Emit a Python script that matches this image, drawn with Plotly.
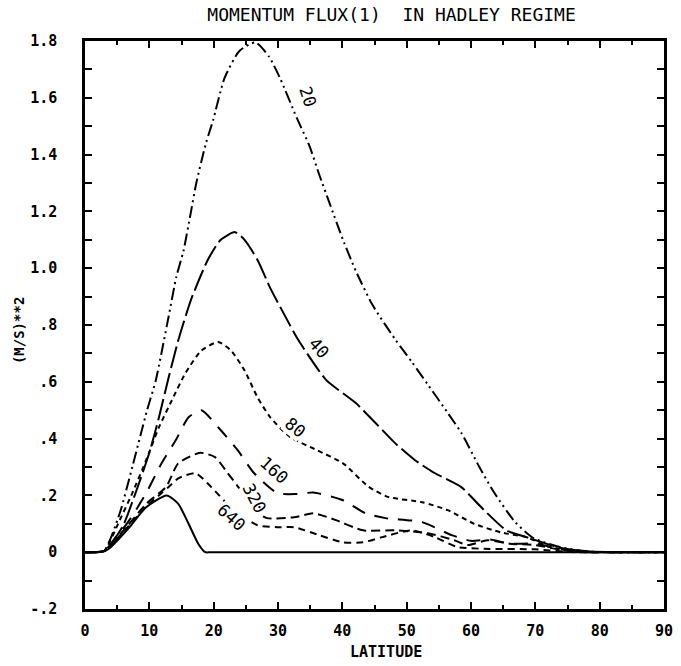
import plotly.graph_objects as go

# ---------------- data ----------------
lat_20 = [0, 1.5, 3, 5.4, 7.35, 9.65, 11.0, 13.0, 14.2, 15.3, 16.4, 17.3, 18.8, 19.9, 21.7, 24.0, 26.5,
          28.6, 30.3, 32.9, 34.9, 36.4, 38.0, 40.1, 42.1, 44.7, 48.2, 50.8, 53.3, 56.4, 58.5,
          61.3, 63.6, 66.9, 69.7, 73.8, 78, 82, 86, 90]
val_20 = [0, 0, 0.005, 0.137, 0.30, 0.50, 0.605, 0.83, 0.97, 1.06, 1.19, 1.30, 1.44, 1.52, 1.67, 1.765, 1.795,
          1.745, 1.67, 1.53, 1.43, 1.33, 1.23, 1.10, 0.99, 0.87, 0.75, 0.67, 0.59, 0.49, 0.42,
          0.30, 0.21, 0.105, 0.05, 0.018, 0.003, 0, 0, 0]

lat_40 = [0, 1.5, 3, 5.8, 8.0, 10.0, 11.5, 13.0, 14.5, 16.5, 19.1, 21.1, 23.3, 24.8, 26.8, 28.8, 30.9,
          32.9, 34.9, 37.5, 42.1, 45.2, 48.2, 51.3, 54.4, 58.5, 61.6, 65.5, 68.6, 74, 78, 82, 86, 90]
val_40 = [0, 0, 0.005, 0.088, 0.218, 0.35, 0.475, 0.615, 0.746, 0.89, 1.03, 1.10, 1.127, 1.10, 1.03, 0.93, 0.84,
          0.757, 0.687, 0.606, 0.525, 0.454, 0.384, 0.324, 0.278, 0.229, 0.158, 0.077, 0.053, 0.015, 0.003,
          0, 0, 0]

lat_80 = [0, 1.5, 3, 5.4, 7.35, 9.5, 11.5, 13.5, 15.6, 18.1, 20.7, 22.7, 24.8, 26.8, 28.8, 31.9, 36.0,
          40.1, 44.1, 47.2, 52.4, 56.4, 60.5, 64.6, 68.6, 72, 76, 80, 85, 90]
val_80 = [0, 0, 0.005, 0.113, 0.208, 0.324, 0.44, 0.535, 0.63, 0.71, 0.74, 0.71, 0.64, 0.546, 0.475, 0.405, 0.36,
          0.313, 0.23, 0.194, 0.176, 0.148, 0.10, 0.07, 0.053, 0.02, 0.005, 0, 0, 0]

lat_160 = [0, 1.5, 3, 6.9, 9.5, 11.9, 14.1, 16.1, 18.1, 20.7, 23.7, 26.3, 29.9, 33.0, 35.5, 40.1, 43.6, 46.7,
           52.4, 57.0, 60, 63, 66, 70, 74, 78, 84, 90]
val_160 = [0, 0, 0.005, 0.113, 0.208, 0.313, 0.394, 0.475, 0.50, 0.44, 0.36, 0.278, 0.208, 0.205, 0.21, 0.183,
           0.137, 0.12, 0.106, 0.06, 0.04, 0.045, 0.03, 0.03, 0.01, 0, 0, 0]

lat_320 = [0, 1.5, 3, 6.5, 9.5, 12.6, 14.5, 17.9, 20.2, 22.2, 24.2, 26.3, 28.3, 32.5, 35.5, 39.0, 43.2,
           48.2, 53.3, 57.4, 59.5, 62.5, 66, 70, 74, 78, 84, 90]
val_320 = [0, 0, 0.005, 0.09, 0.17, 0.23, 0.313, 0.35, 0.335, 0.278, 0.218, 0.148, 0.12, 0.123, 0.137, 0.113,
           0.077, 0.077, 0.067, 0.042, 0.025, 0.042, 0.03, 0.025, 0.008, 0, 0, 0]

lat_640 = [0, 1.5, 3, 6.5, 9.5, 12, 13, 14.5, 17.2, 19.6, 23.0, 26.8, 29.9, 32.5, 36.4, 40.1, 43.2,
           46.2, 50.8, 54.4, 57.9, 62, 70, 76, 83, 90]
val_640 = [0, 0, 0.005, 0.085, 0.16, 0.21, 0.23, 0.26, 0.278, 0.23, 0.15, 0.095, 0.088, 0.088, 0.06, 0.035, 0.035,
           0.053, 0.077, 0.053, 0.018, 0.012, 0.01, 0, 0, 0]

lat_solid = [0, 1.5, 3, 3.8, 6.9, 9.5, 12.7, 14.5, 16.1, 17.6, 18.7, 19.5, 22, 30, 40, 50, 60, 70, 80, 90]
val_solid = [0, 0, 0.003, 0.014, 0.088, 0.158, 0.20, 0.17, 0.10, 0.03, 0, 0, 0, 0, 0, 0, 0, 0, 0, 0]

curve_labels = ["20", "40", "80", "160", "320", "640"]
label_lat = [34.6, 36.4, 32.6, 29.4, 26.3, 22.7]
label_val = [1.606, 0.72, 0.44, 0.29, 0.19, 0.123]
label_angle = [72, 48, 40, 42, 62, 42]

ytick_vals = [-0.2, 0, 0.2, 0.4, 0.6, 0.8, 1.0, 1.2, 1.4, 1.6, 1.8]
ytick_text = ["-.2", "0", ".2", ".4", ".6", ".8", "1.0", "1.2", "1.4", "1.6", "1.8"]
xtick_vals = [0, 10, 20, 30, 40, 50, 60, 70, 80, 90]

FONT = "DejaVu Sans Mono"

# ---------------- figure ----------------
series = [
    (lat_20, val_20, "12px,4px,2px,4px,2px,4px"),
    (lat_40, val_40, "22px,5px"),
    (lat_80, val_80, "5px,4px"),
    (lat_160, val_160, "14px,10px"),
    (lat_320, val_320, "9px,5px"),
    (lat_640, val_640, "7px,5px"),
    (lat_solid, val_solid, "solid"),
]

fig = go.Figure()
for xs, ys, dash in series:
    fig.add_trace(go.Scatter(
        x=xs, y=ys, mode="lines",
        line=dict(color="black", width=2, dash=dash, shape="spline", smoothing=0.6),
        showlegend=False, hoverinfo="skip"))

for t, x, y, a in zip(curve_labels, label_lat, label_val, label_angle):
    fig.add_annotation(x=x, y=y, text=t, showarrow=False, textangle=a,
                       font=dict(family=FONT, size=17, color="black"),
                       bgcolor="white", borderpad=0)

fig.add_annotation(xref="paper", yref="paper", x=-0.114, y=0.491, text="(M/S)**2",
                   textangle=-90, showarrow=False, xanchor="center", yanchor="middle",
                   font=dict(family=FONT, size=14, color="black", weight="bold"))
fig.add_annotation(xref="paper", yref="paper", x=0.519, y=-0.0757, text="LATITUDE",
                   showarrow=False, xanchor="center", yanchor="middle",
                   font=dict(family=FONT, size=15, color="black", weight="bold"))

fig.update_layout(
    width=681, height=666,
    margin=dict(l=85, r=8, t=41, b=57),
    paper_bgcolor="white", plot_bgcolor="white",
    title=dict(text="MOMENTUM FLUX(1)  IN HADLEY REGIME", x=0.575, xanchor="center",
               y=1 - 15 / 666, yanchor="middle",
               font=dict(family=FONT, size=18, color="black")),
    font=dict(family=FONT, size=15, color="black"),
)

fig.update_xaxes(range=[0, 90], tickvals=xtick_vals, ticks="inside", ticklen=7, tickwidth=1.5,
                 tickcolor="black", showline=True, linecolor="black", linewidth=2.5, mirror="ticks",
                 showgrid=False, zeroline=False,
                 minor=dict(dtick=5, ticks="inside", ticklen=4, tickcolor="black", tickwidth=1.5),
                 ticklabelstandoff=6,
                 tickfont=dict(family=FONT, size=15, color="black", weight="bold"))
fig.update_yaxes(range=[-0.2, 1.8], tickvals=ytick_vals, ticktext=ytick_text, ticks="inside",
                 ticklen=7, tickwidth=1.5, tickcolor="black", showline=True, linecolor="black",
                 linewidth=2.5, mirror="ticks", showgrid=False, zeroline=False,
                 minor=dict(dtick=0.1, tick0=0, ticks="inside", ticklen=7, tickcolor="black",
                            tickwidth=1.5),
                 ticklabelstandoff=22,
                 tickfont=dict(family=FONT, size=15, color="black", weight="bold"))

fig.write_html("out.html")
